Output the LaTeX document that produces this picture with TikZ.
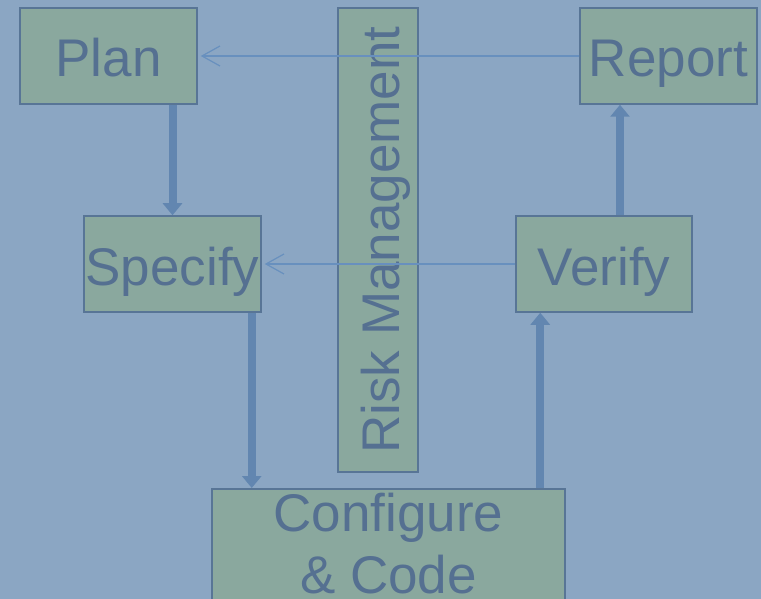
\documentclass[tikz,border=0pt]{standalone}
\usepackage{fontspec}
\setmainfont{Liberation Sans}
\usepackage{tikz}
\usetikzlibrary{arrows.meta,calc}
\definecolor{bgblue}{RGB}{139,166,195}
\definecolor{boxgreen}{RGB}{138,168,158}
\definecolor{boxline}{RGB}{88,117,150}
\definecolor{boxtext}{RGB}{85,112,145}
\definecolor{linkblue}{RGB}{104,144,190}
\definecolor{blockblue}{RGB}{98,134,176}

\begin{document}
\begin{tikzpicture}[
    x=1pt, y=-1pt,
    stage/.style={draw=boxline,fill=boxgreen,line width=1.5pt,text=boxtext,
      font=\fontsize{53}{62}\selectfont,inner sep=0pt,
      minimum width=177pt,minimum height=96pt},
    oneline/.style={text height=42pt,text depth=0pt},
    feedback/.style={linkblue,line width=1.2pt,shorten >=3pt,
      -{Straight Barb[length=18pt,width=20pt,line width=1.2pt]}},
    block/.style={blockblue,line width=8pt,
      -{Triangle[length=12pt,width=19pt]}}
    ]
    \useasboundingbox (0,0) rectangle (761,599);
    \fill[bgblue] (0,0) rectangle (761,599);
    \begin{scope}
    \clip (0,0) rectangle (761,599);
    \node[stage,oneline] (plan) at (108.5,56) {Plan};
    \node[stage,oneline] (report) at (668.5,56) {Report};
    \node[stage,oneline] (specify) at (172.5,264) {Specify};
    \node[stage,oneline,minimum width=176pt] (verify) at (604,264) {Verify};
    \node[stage,oneline,rotate=90,minimum width=464pt,minimum height=80pt] (risk) at (378,240) {Risk Management};
    \node[stage,anchor=north,align=center,minimum width=353pt,
      inner ysep=4pt] (configure) at (388.5,488) {Configure\\ \& Code\\ ~};
    \end{scope}
    \coordinate (sc) at ([xshift=-10pt]specify.south east);
    \coordinate (cv) at ([xshift=25pt]verify.south west);
    \coordinate (vr) at ([xshift=16pt]verify.north);
    \draw[block] (plan.south -| specify.north) -- (specify.north);
    \draw[block] (sc) -- (sc |- configure.north);
    \draw[block] (cv |- configure.north) -- (cv);
    \draw[block] (vr) -- (vr |- report.south);
    \draw[feedback] (report.west) -- (plan.east);
    \draw[feedback] (verify.west) -- (specify.east);
  \end{tikzpicture}
\end{document}
